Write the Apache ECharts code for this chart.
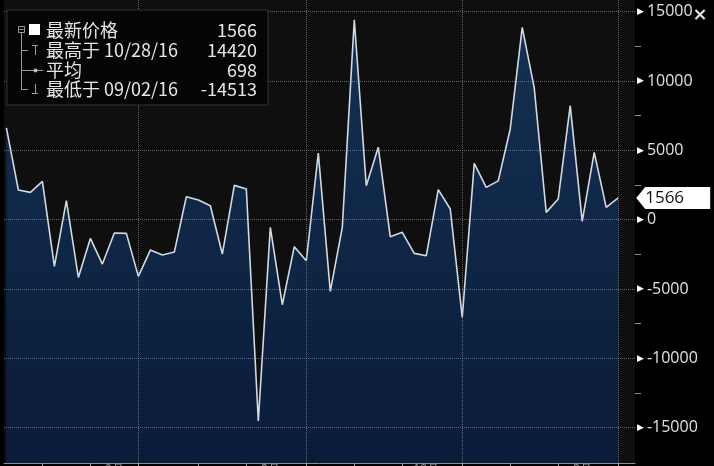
<!DOCTYPE html>
<html><head><meta charset="utf-8">
<script src="https://cdn.jsdelivr.net/npm/echarts@6/dist/echarts.min.js"></script>
<style>html,body{margin:0;padding:0;background:#000;}#c{width:714px;height:466px;}</style>
</head><body><div id="c"></div>
<script>
// ---- data ----
const dates = ['04/08/16','04/15/16','04/22/16','04/29/16','05/06/16','05/13/16','05/20/16','05/27/16',
 '06/03/16','06/10/16','06/17/16','06/24/16','07/01/16','07/08/16','07/15/16','07/22/16','07/29/16',
 '08/05/16','08/12/16','08/19/16','08/26/16','09/02/16','09/09/16','09/16/16','09/23/16','09/30/16',
 '10/07/16','10/14/16','10/21/16','10/28/16','11/04/16','11/11/16','11/18/16','11/25/16',
 '12/02/16','12/09/16','12/16/16','12/23/16','12/30/16','01/06/17','01/13/17','01/20/17','01/27/17',
 '02/03/17','02/10/17','02/17/17','02/24/17','03/03/17','03/10/17','03/17/17','03/24/17','03/31/17'];
const values = [6616, 2143, 1970, 2763, -3369, 1371, -4163, -1349, -3199, -962,
 -986, -4088, -2189, -2549, -2333, 1659, 1419, 1010, -2477, 2475,
 2214, -14513, -555, -6133, -1948, -2958, 4811, -5170, -555, 14420,
 2453, 5217, -1227, -913, -2431, -2597, 2164, 772, -7049, 4062,
 2333, 2800, 6544, 13875, 9502, 527, 1493, 8225, -123, 4856,
 887, 1566];
const yTickLabels = [-15000, -10000, -5000, 0, 5000, 10000, 15000];
const yMinorTicks = [-12500, -7500, -2500, 2500, 7500, 12500];
const xLabelMonths = ['06', '09', '12', '03'];
const xLabelTexts = ['6月', '9月', '12月', '3月'];
const legendNames = ['最新价格', '最高于', '平均', '最低于'];

// ---- derived ----
const seriesData = values.map((v, i) => [i, v]);
const monthOf = d => d.slice(0, 2);
const monthEndIdx = [];
dates.forEach((d, i) => { if (i === dates.length - 1 || monthOf(dates[i + 1]) !== monthOf(d)) monthEndIdx.push(i); });
const quarterEndIdx = monthEndIdx.filter(i => ['03','06','09','12'].includes(monthOf(dates[i])));
const xLabelIdx = xLabelMonths.map(m => dates.findIndex(d => monthOf(d) === m) + 1);
const last = values[values.length - 1];
const maxV = Math.max(...values), minV = Math.min(...values);
const maxD = dates[values.indexOf(maxV)], minD = dates[values.indexOf(minV)];
const avg = Math.round(values.reduce((a, b) => a + b, 0) / values.length);

const chart = echarts.init(document.getElementById('c'));
const gridCol = 'rgba(165,170,180,0.55)';
const F = '"Noto Sans CJK SC", "Open Sans", sans-serif';
const tx = (x, y, t, align) => ({ type: 'text', x: x, y: y, z: 20,
  style: { text: t, fill: '#e6e6e6', font: '18px ' + F, align: align || 'left', verticalAlign: 'middle' } });
const ln = (x1, y1, x2, y2) => ({ type: 'line', z: 20, shape: { x1, y1, x2, y2 }, style: { stroke: '#9a9a9a', lineWidth: 1 } });

chart.setOption({
  animation: false,
  backgroundColor: '#000',
  grid: { left: 4, right: 79, top: 0, bottom: 3, show: true, backgroundColor: '#0f0f10', borderWidth: 0,
    outerBoundsMode: 'none', containLabel: false },
  xAxis: {
    type: 'value', min: -0.2, max: 52.4,
    axisLine: { show: true, onZero: false, lineStyle: { color: '#8c8c8c', width: 1 } },
    axisTick: { show: true, customValues: monthEndIdx, length: 4, lineStyle: { color: '#9a9a9a' } },
    axisLabel: { show: true, customValues: xLabelIdx, margin: 1, color: '#9a9a9a', fontSize: 12,
      formatter: v => xLabelTexts[xLabelIdx.indexOf(Math.round(v))] || '' },
    splitLine: { show: false }
  },
  yAxis: {
    type: 'value', position: 'right', min: -17546, max: 15844,
    axisLine: { show: false, onZero: false },
    axisTick: { show: true, customValues: yMinorTicks, length: 6, lineStyle: { color: '#8a8a8a' } },
    axisLabel: { show: true, customValues: yTickLabels, margin: 2,
      formatter: v => '{t|▶}{v|' + v + '}',
      rich: { t: { fontFamily: 'DejaVu Sans', fontSize: 9, color: '#ffffff', padding: [0, 3, 0, 0] },
              v: { fontFamily: '"Open Sans", sans-serif', fontSize: 16, color: '#e2e2e2' } } },
    splitLine: { show: false }
  },
  series: [{
    type: 'line', data: seriesData, showSymbol: false, z: 3,
    lineStyle: { color: '#d4d8e0', width: 1.6 },
    areaStyle: { origin: 'start', color: { type: 'linear', x: 0, y: 0, x2: 0, y2: 1,
      colorStops: [{ offset: 0, color: '#173f70' }, { offset: 1, color: '#07214a' }] } },
    markLine: {
      silent: true, symbol: 'none', label: { show: false },
      lineStyle: { color: gridCol, type: 'dotted', width: 1 },
      data: yTickLabels.map(v => ({ yAxis: v })).concat(quarterEndIdx.map(i => ({ xAxis: i })))
    },
    markPoint: {
      silent: true,
      data: [{ coord: [values.length - 1, last], value: last }],
      symbol: 'path://M0,11L9,0L74,0L74,22L9,22Z', symbolSize: [74, 22], symbolOffset: [55, 0],
      itemStyle: { color: '#ffffff' },
      label: { show: true, position: 'insideLeft', distance: 9, color: '#111', fontSize: 17,
        fontFamily: '"Open Sans", sans-serif', formatter: p => String(p.value) }
    }
  }],
  graphic: [
    { type: 'rect', z: 19, shape: { x: 7, y: 10, width: 261, height: 95 },
      style: { fill: 'rgba(5,5,5,0.95)', stroke: '#333333', lineWidth: 1 } },
    { type: 'rect', z: 20, shape: { x: 18.5, y: 26.5, width: 6, height: 6 }, style: { fill: 'none', stroke: '#9a9a9a', lineWidth: 1 } },
    ln(19.5, 29.5, 23.5, 29.5),
    ln(21.5, 33, 21.5, 90),
    ln(21.5, 50.5, 28, 50.5), ln(21.5, 70.5, 29, 70.5), ln(21.5, 89.5, 28, 89.5),
    ln(32, 45.5, 38, 45.5), ln(35.5, 45.5, 35.5, 55),
    ln(29, 70.5, 43, 70.5),
    { type: 'circle', z: 21, shape: { cx: 35.5, cy: 70.5, r: 2 }, style: { fill: '#bbbbbb' } },
    ln(35.5, 84, 35.5, 93.5), ln(32, 93.5, 38, 93.5),
    { type: 'rect', z: 20, shape: { x: 29, y: 24, width: 11, height: 11 }, style: { fill: '#ffffff' } },
    tx(46, 30, legendNames[0]), tx(257, 30, String(last), 'right'),
    tx(46, 50, legendNames[1] + ' ' + maxD), tx(257, 50, String(maxV), 'right'),
    tx(46, 70, legendNames[2]), tx(257, 70, String(avg), 'right'),
    tx(46, 89, legendNames[3] + ' ' + minD), tx(257, 89, String(minV), 'right'),
    { type: 'text', x: 700, y: 15, z: 20, style: { text: '×', fill: '#e0e0e0', font: 'bold 18px "DejaVu Sans"', align: 'center', verticalAlign: 'middle' } }
  ]
});
</script></body></html>
